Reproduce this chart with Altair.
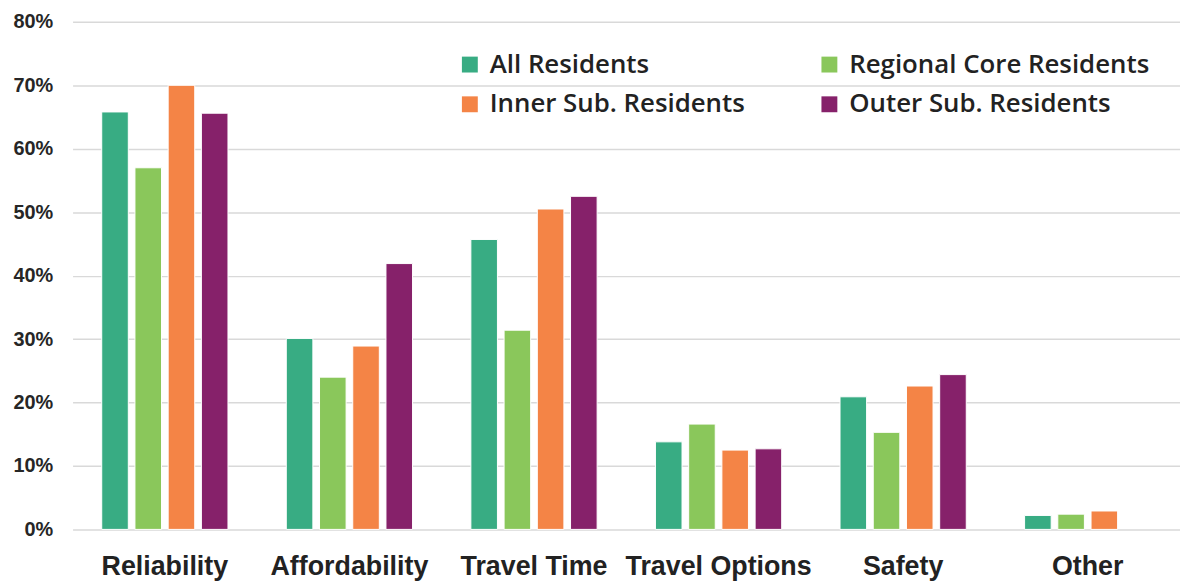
import altair as alt
import pandas as pd

categories = ["Reliability", "Affordability", "Travel Time", "Travel Options", "Safety", "Other"]
series = ["All Residents", "Regional Core Residents", "Inner Sub. Residents", "Outer Sub. Residents"]
all_residents = [65.8, 30.1, 45.7, 13.8, 20.9, 2.2]
regional_core = [57.0, 24.0, 31.4, 16.6, 15.3, 2.4]
inner_sub = [70.0, 28.9, 50.5, 12.5, 22.6, 2.9]
outer_sub = [65.6, 41.9, 52.5, 12.7, 24.4, None]
colors = ["#38AC83", "#8AC75B", "#F48446", "#86216A"]
legend_order = ["All Residents", "Inner Sub. Residents", "Regional Core Residents", "Outer Sub. Residents"]

rows = []
for s, vals in zip(series, [all_residents, regional_core, inner_sub, outer_sub]):
    for c, v in zip(categories, vals):
        if v is not None:
            rows.append({"category": c, "series": s, "value": v / 100.0})
df = pd.DataFrame(rows)

chart = alt.Chart(df).mark_bar(stroke="white", strokeWidth=1).encode(
    x=alt.X("category:N", sort=categories,
            scale=alt.Scale(paddingInner=0.316, paddingOuter=0.158),
            axis=alt.Axis(title=None, labelAngle=0, labelFontSize=27, labelFontWeight="bold",
                          labelFont="Liberation Sans", labelColor="#222222", labelPadding=24,
                          labelLimit=400, labelOverlap=False,
                          ticks=False, domain=False, grid=False)),
    xOffset=alt.XOffset("series:N", sort=series,
                        scale=alt.Scale(paddingInner=0.2, paddingOuter=0)),
    y=alt.Y("value:Q", scale=alt.Scale(domain=[0, 0.8], nice=False),
            axis=alt.Axis(title=None, format=".0%", values=[0, .1, .2, .3, .4, .5, .6, .7, .8],
                          labelFontSize=20, labelFontWeight="bold", labelFont="Liberation Sans",
                          labelColor="#262626", labelPadding=20, ticks=False, domain=False,
                          gridColor="#d9d9d9", gridWidth=1.5)),
    color=alt.Color("series:N", sort=series,
                    scale=alt.Scale(domain=series, range=colors),
                    legend=alt.Legend(title=None, orient="none", legendX=387, legendY=30,
                                      columns=2, values=legend_order,
                                      symbolType="square", symbolSize=256,
                                      symbolStrokeWidth=0, labelFontSize=26, labelFontWeight=600,
                                      labelFont="Open Sans",
                                      labelColor="#222222", labelOffset=7, rowPadding=14,
                                      columnPadding=72, padding=0, labelLimit=400)),
).properties(
    width=1115, height=511,
    autosize=alt.AutoSizeParams(type="none"),
    padding={"left": 65, "top": 12, "right": 0, "bottom": 50},
).configure_view(stroke=None)

chart.save("out.html", embed_options={"renderer": "svg", "actions": False})
